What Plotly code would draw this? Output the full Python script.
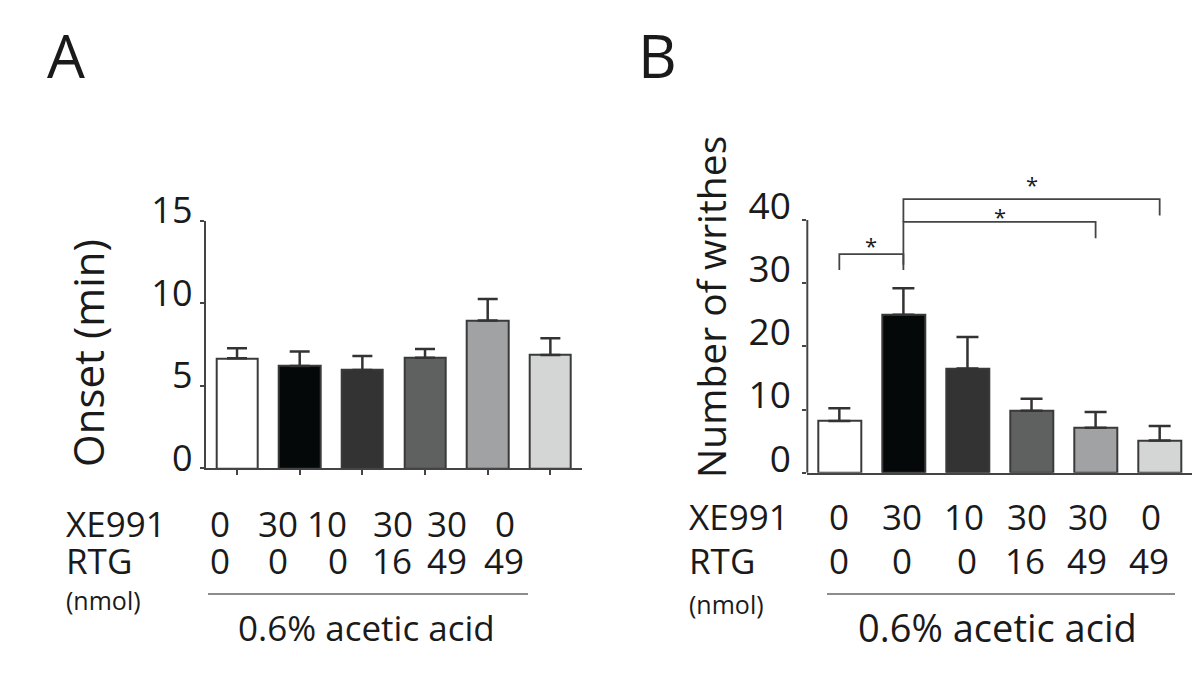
import plotly.graph_objects as go

# ---------------- data ----------------
groups = ["G1", "G2", "G3", "G4", "G5", "G6"]
xe991 = ["0", "30", "10", "30", "30", "0"]
rtg = ["0", "0", "0", "16", "49", "49"]
bar_colors = ["#ffffff", "#050808", "#333333", "#5f6161", "#a1a2a4", "#d4d6d5"]

onset_mean = [6.67, 6.20, 5.96, 6.70, 8.95, 6.87]
onset_sem = [0.60, 0.87, 0.84, 0.53, 1.31, 1.01]

writhes_mean = [8.2, 25.0, 16.5, 9.8, 7.1, 5.1]
writhes_sem = [2.0, 4.2, 5.0, 1.9, 2.5, 2.3]

# significance comparisons: (group i, group j, bracket top, left drop to, right drop to, star height)
comparisons = [
    (0, 1, 34.6, 32.1, 32.1, 36.2),
    (1, 4, 39.7, 32.9, 37.1, 40.8),
    (1, 5, 43.3, 39.7, 40.7, 45.8),
]

A_YMAX = 15
A_TICKS = [0, 5, 10, 15]
B_YMAX_AXIS = 40
B_YRANGE_TOP = 47
B_TICKS = [0, 10, 20, 30, 40]

# ---------------- layout helpers ----------------
# the page body has an 8px margin, so the figure is drawn 8px in from the window corner
OFF = 8
FW, FH = 1200 - 2 * OFF, 700 - 2 * OFF


def px(x):
    return (x - OFF) / FW


def py(y):
    return 1 - (y - OFF) / FH


FONT = "Open Sans"
TXT = "#1a1a1a"
LINE = "#444444"
xs = list(range(len(groups)))

fig = go.Figure()

fig.add_trace(go.Bar(
    x=xs, y=onset_mean, width=0.66,
    marker=dict(color=bar_colors, line=dict(color="#3a3a3a", width=2)),
    error_y=dict(type="data", array=onset_sem, arrayminus=[0] * len(xs), symmetric=False,
                 color="#333333", thickness=2.5, width=10),
    xaxis="x", yaxis="y", showlegend=False, hoverinfo="skip",
))

fig.add_trace(go.Bar(
    x=xs, y=writhes_mean, width=0.67,
    marker=dict(color=bar_colors, line=dict(color="#3a3a3a", width=2)),
    error_y=dict(type="data", array=writhes_sem, arrayminus=[0] * len(xs), symmetric=False,
                 color="#333333", thickness=2.5, width=11),
    xaxis="x2", yaxis="y2", showlegend=False, hoverinfo="skip",
))

annotations = []
for (i, j, top, dl, dr, star) in comparisons:
    fig.add_trace(go.Scatter(
        x=[i, i, j, j], y=[dl, top, top, dr], mode="lines",
        line=dict(color=LINE, width=1.8), xaxis="x2", yaxis="y2",
        showlegend=False, hoverinfo="skip",
    ))
    annotations.append(dict(
        x=(i + j) / 2, y=star, xref="x2", yref="y2", text="*", showarrow=False,
        font=dict(family=FONT, size=22, color=TXT), yanchor="middle", yshift=-1,
    ))

shapes = [
    # manual y axis line for panel B (0..40 only)
    dict(type="line", xref="x2 domain", yref="y2 domain", x0=0, x1=0,
         y0=0, y1=B_YMAX_AXIS / B_YRANGE_TOP, line=dict(color=LINE, width=2)),
]


def txt(x, y, text, size, xanchor="center", angle=0):
    annotations.append(dict(x=px(x), y=py(y), xref="paper", yref="paper", text=text,
                            showarrow=False, textangle=angle,
                            font=dict(family=FONT, size=size, color=TXT),
                            xanchor=xanchor, yanchor="middle"))


# panel letters
txt(66, 55, "A", 60)
txt(657, 55, "B", 60)

# axis titles
txt(87, 353, "Onset (min)", 42, angle=-90)
txt(710, 307, "Number of writhes", 39, angle=-90)

# condition tables
tables = [
    dict(label_x=64, xe_y=523, rtg_y=560, nmol_y=600, size=35,
         xe_pos=[220, 278, 327, 393, 447, 505], rtg_pos=[220, 278, 338, 392, 447, 504],
         line=(208, 528, 594), acid=(366, 627, 35)),
    dict(label_x=687, xe_y=516, rtg_y=560, nmol_y=604, size=35,
         xe_pos=[839, 902, 964, 1027, 1088, 1151], rtg_pos=[839, 902, 967, 1025, 1087, 1149],
         line=(827, 1175, 594), acid=(997, 627, 38)),
]
for t in tables:
    txt(t["label_x"], t["xe_y"], "XE991", t["size"], xanchor="left")
    txt(t["label_x"], t["rtg_y"], "RTG", t["size"], xanchor="left")
    txt(t["label_x"], t["nmol_y"], "(nmol)", 25, xanchor="left")
    for k in range(len(groups)):
        txt(t["xe_pos"][k], t["xe_y"], xe991[k], t["size"])
        txt(t["rtg_pos"][k], t["rtg_y"], rtg[k], t["size"])
    x0, x1, yl = t["line"]
    shapes.append(dict(type="line", xref="paper", yref="paper", x0=px(x0), x1=px(x1),
                       y0=py(yl), y1=py(yl), line=dict(color="#666666", width=1.3)))
    ax_, ay_, asz = t["acid"]
    txt(ax_, ay_, "0.6% acetic acid", asz)

fig.update_layout(
    template="none",
    width=FW, height=FH, margin=dict(l=0, r=0, t=0, b=0, pad=0, autoexpand=False),
    paper_bgcolor="white", plot_bgcolor="white",
    font=dict(family=FONT, color=TXT),
    bargap=0,
    xaxis=dict(domain=[px(205.7), px(581.7)], range=[-0.5, 5.5], anchor="y", automargin=False,
               showline=True, linecolor=LINE, linewidth=2, ticks="outside", ticklen=5,
               tickwidth=1.5, tickcolor=LINE, tickvals=xs, showticklabels=False,
               showgrid=False, zeroline=False, fixedrange=True),
    yaxis=dict(domain=[py(468.3), py(220.7)], range=[0, A_YMAX], anchor="x", automargin=False,
               showline=True, linecolor=LINE, linewidth=2, ticks="outside", ticklen=4,
               tickwidth=2, tickcolor=LINE, tickvals=A_TICKS,
               tickfont=dict(family=FONT, size=36, color=TXT), ticklabelshift=-10,
               ticklabelstandoff=0,
               showgrid=False, zeroline=False, fixedrange=True),
    xaxis2=dict(domain=[px(807.3), px(1191.7)], range=[-0.5, 5.5], anchor="y2", automargin=False,
                showline=True, linecolor=LINE, linewidth=2, ticks="", tickvals=xs,
                showticklabels=False, showgrid=False, zeroline=False, fixedrange=True),
    yaxis2=dict(domain=[py(472.7), py(472.7 - B_YRANGE_TOP * 6.3175)], range=[0, B_YRANGE_TOP],
                anchor="x2", automargin=False, showline=False, ticks="outside", ticklen=4,
                tickwidth=2, tickcolor=LINE, tickvals=B_TICKS,
                tickfont=dict(family=FONT, size=37, color=TXT), ticklabelshift=-14,
                ticklabelstandoff=4,
                showgrid=False, zeroline=False, fixedrange=True),
    annotations=annotations,
    shapes=shapes,
)

fig.write_html("out.html")
